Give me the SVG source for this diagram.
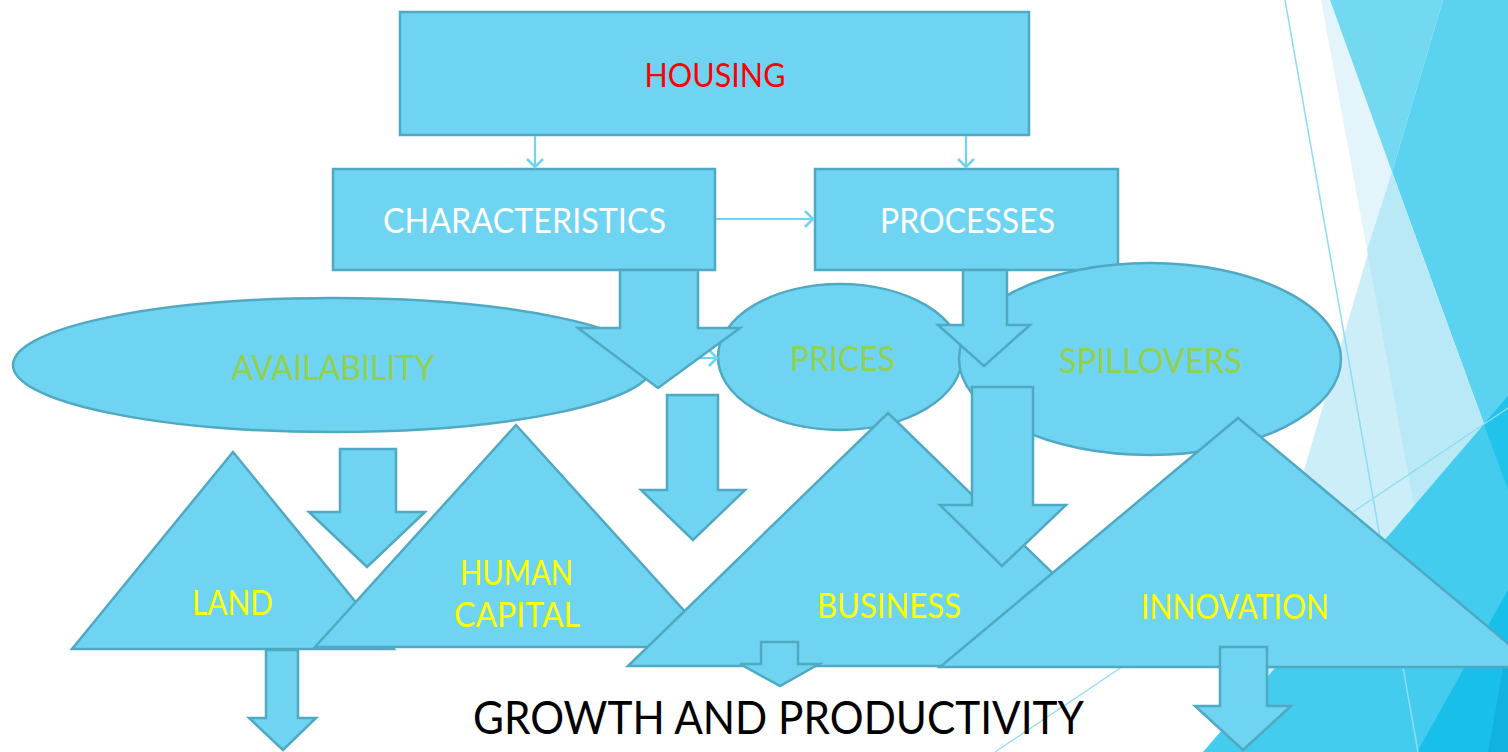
<svg xmlns="http://www.w3.org/2000/svg" width="1508" height="752" viewBox="0 0 1508 752">
<defs>
<style>
.shape{fill:#6ed4f1;stroke:#50a9c3;stroke-width:2.5;stroke-linejoin:miter}
.lbl{font-family:Lato,"Liberation Sans",Arial,sans-serif;text-anchor:middle}
.w{fill:#ffffff;font-size:35px}
.g{fill:#92d050;font-size:35px}
.y{fill:#ffff00;font-size:34px}
.conn{fill:none;stroke:#6ed4f1;stroke-width:2.2}
.deco{stroke:none}
</style>
<marker id="chev" markerUnits="userSpaceOnUse" markerWidth="12" markerHeight="20" refX="10" refY="9" orient="auto">
<path d="M2,1 L10,9 L2,17" fill="none" stroke="#6ed4f1" stroke-width="2.6"/>
</marker>
</defs>
<rect width="1508" height="752" fill="#ffffff"/>
<g id="background">
<polygon class="deco" fill="#e3f5fb" points="1321,0 1330,0 1392,172 1367,250"/>
<polygon class="deco" fill="#72d9f0" points="1330,0 1443,0 1392,172"/>
<polygon class="deco" fill="#5bd2ef" points="1443,0 1508,0 1508,490 1392,172"/>
<polygon class="deco" fill="#cbeef9" points="1392,172 1484,424 1230,721"/>
<polygon class="deco" fill="#b9e8f6" points="1367,250 1392,172 1484,424 1414,506"/>
<polygon class="deco" fill="#44ccee" points="1203,752 1508,396 1508,752"/>
<polygon class="deco" fill="#22c3ea" points="1484,424 1508,396 1508,490"/>
<polygon class="deco" fill="#18c0e9" points="1417,752 1508,590 1508,752"/>
<polygon class="deco" fill="#12b2e0" points="1488,752 1508,640 1508,752"/>
<line x1="1285" y1="0" x2="1418" y2="752" stroke="#8fdcf2" stroke-width="1.5"/>
<line x1="995" y1="752" x2="1508" y2="408" stroke="#8fdcf2" stroke-width="1.3"/>
</g>
<g id="housing">
<rect class="shape" x="400" y="12" width="629" height="123"/>
<text class="lbl" x="715" y="87" fill="#ff0000" font-size="33" textLength="141" lengthAdjust="spacingAndGlyphs">HOUSING</text>
</g>
<g id="characteristics">
<rect class="shape" x="333" y="169" width="382" height="101"/>
<text class="lbl w" x="524.5" y="233" textLength="283" lengthAdjust="spacingAndGlyphs">CHARACTERISTICS</text>
</g>
<g id="processes">
<rect class="shape" x="815" y="169" width="303" height="101"/>
<text class="lbl w" x="967.5" y="233" textLength="175" lengthAdjust="spacingAndGlyphs">PROCESSES</text>
</g>
<g id="availability">
<ellipse class="shape" cx="333" cy="365" rx="320" ry="67"/>
<text class="lbl g" x="333" y="380" textLength="203" lengthAdjust="spacingAndGlyphs">AVAILABILITY</text>
</g>
<g id="prices">
<ellipse class="shape" cx="840" cy="357" rx="122" ry="73"/>
<text class="lbl g" x="842.5" y="371" textLength="105" lengthAdjust="spacingAndGlyphs">PRICES</text>
</g>
<g id="spillovers">
<ellipse class="shape" cx="1150" cy="359" rx="191" ry="96"/>
<text class="lbl g" x="1150.5" y="373" textLength="183" lengthAdjust="spacingAndGlyphs">SPILLOVERS</text>
</g>
<g id="connectors">
<line class="conn" x1="535" y1="136" x2="535" y2="167" marker-end="url(#chev)"/>
<line class="conn" x1="966" y1="136" x2="966" y2="167" marker-end="url(#chev)"/>
<line class="conn" x1="716" y1="219" x2="813" y2="219" marker-end="url(#chev)"/>
<line class="conn" x1="653" y1="358" x2="717" y2="358" marker-end="url(#chev)"/>
</g>
<g id="arrow-characteristics">
<polygon class="shape" points="620,270 698,270 698,328 740,328 658,388 578,328 620,328"/>
</g>
<g id="arrow-processes">
<polygon class="shape" points="963,270 1007,270 1007,325 1030,325 984,366 938,325 963,325"/>
</g>
<g id="arrow-middle">
<polygon class="shape" points="667,395 718,395 718,490 745,490 693,540 641,490 667,490"/>
</g>
<g id="land">
<polygon class="shape" points="233,452 394,649 72,649"/>
<text class="lbl y" x="232.5" y="615" textLength="81" lengthAdjust="spacingAndGlyphs">LAND</text>
</g>
<g id="arrow-availability">
<polygon class="shape" points="340,449 396,449 396,512 425,512 367,567 309,512 340,512"/>
</g>
<g id="human-capital">
<polygon class="shape" points="516,425 717,647 315,647"/>
<text class="lbl y" x="516.5" y="585" textLength="113" lengthAdjust="spacingAndGlyphs">HUMAN</text>
<text class="lbl y" x="517" y="627" textLength="126" lengthAdjust="spacingAndGlyphs">CAPITAL</text>
</g>
<g id="business">
<polygon class="shape" points="888,413 1148,666 628,666"/>
<text class="lbl y" x="889" y="618" textLength="144" lengthAdjust="spacingAndGlyphs">BUSINESS</text>
</g>
<g id="arrow-spillovers">
<polygon class="shape" points="972,387 1033,387 1033,505 1066,505 1002,566 940,505 972,505"/>
</g>
<g id="innovation">
<polygon class="shape" points="1238,418 1536,667 940,667"/>
<text class="lbl y" x="1235" y="619" textLength="188" lengthAdjust="spacingAndGlyphs">INNOVATION</text>
</g>
<g id="arrow-land">
<polygon class="shape" points="266,650 298,650 298,718 316,718 283,750 249,718 266,718"/>
</g>
<g id="arrow-business">
<polygon class="shape" points="761,642 798,642 798,664 819,664 780,686 740,664 761,664"/>
</g>
<g id="arrow-innovation">
<polygon class="shape" points="1220,647 1267,647 1267,706 1291,706 1243,750 1195,706 1220,706"/>
</g>
<g id="growth">
<text class="lbl" x="778.5" y="734" fill="#000000" font-size="46" textLength="611" lengthAdjust="spacingAndGlyphs">GROWTH AND PRODUCTIVITY</text>
</g>
</svg>
